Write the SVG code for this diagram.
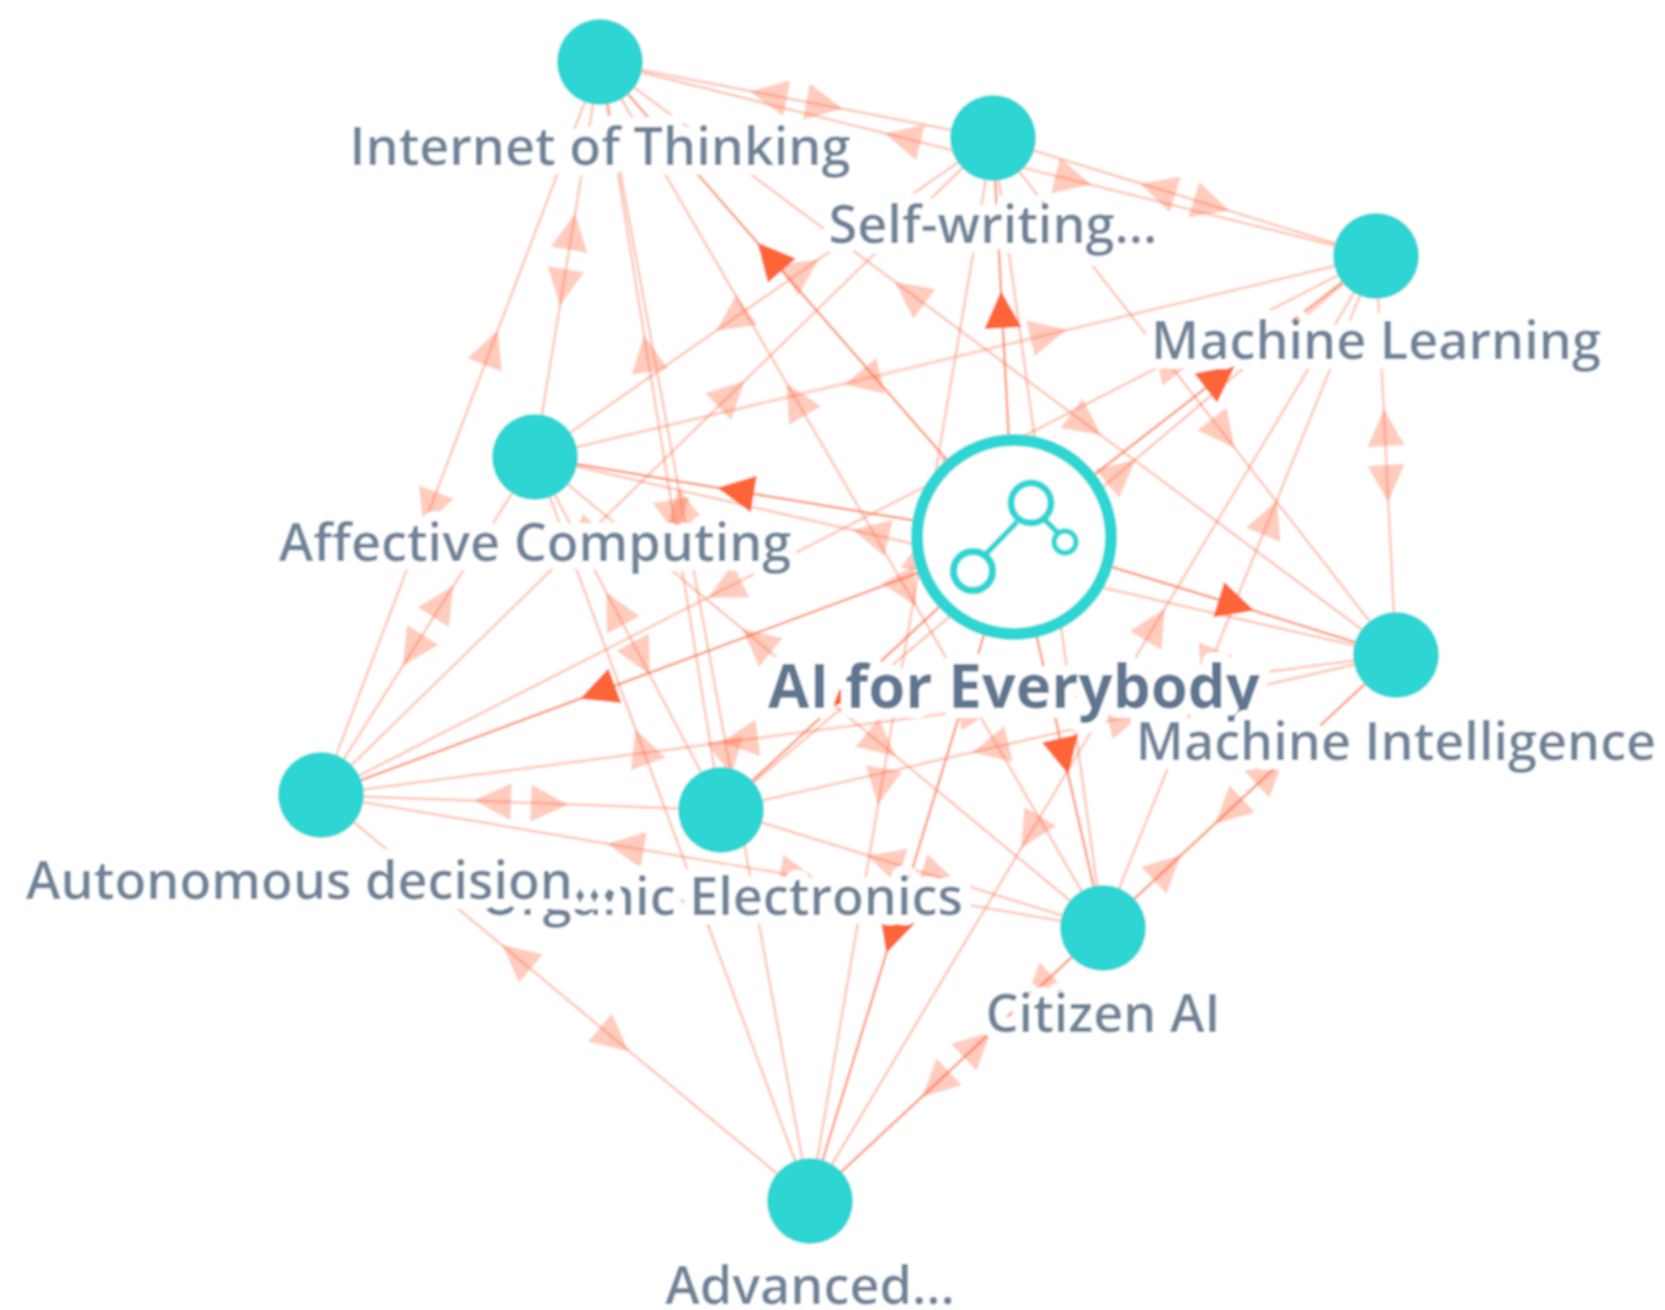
<svg xmlns="http://www.w3.org/2000/svg" width="1665" height="1310" viewBox="0 0 1665 1310">
<style>
.p{fill:none;stroke:#FF6539;stroke-opacity:.2;stroke-width:2.5;marker-mid:url(#pa)}
.d{fill:none;stroke:#FF6539;stroke-opacity:.65;stroke-width:2.5;marker-mid:url(#da)}
.n{fill:#2DD6D3}
.i{fill:none;stroke:#2DD6D3}
text{font-family:"Open Sans","Noto Sans",sans-serif;font-size:52.2px;font-weight:600;fill:#6E8298;text-anchor:middle;stroke:#fff;stroke-width:20px;stroke-linejoin:round;paint-order:stroke}
.t{font-size:60px;font-weight:700;fill:#5F7690}
</style>
<defs>
<marker id="pa" markerUnits="userSpaceOnUse" markerWidth="44" markerHeight="44" viewBox="-22 -22 44 44" refX="0" refY="0" orient="auto"><path d="M-18-18.5L19 0L-18 18.5Z" fill="#FF6539" fill-opacity=".33"/></marker>
<marker id="da" markerUnits="userSpaceOnUse" markerWidth="44" markerHeight="44" viewBox="-22 -22 44 44" refX="0" refY="0" orient="auto"><path d="M-18-18.5L19 0L-18 18.5Z" fill="#FF6539"/></marker>
<filter id="soft" x="0" y="0" width="1" height="1" filterUnits="objectBoundingBox"><feGaussianBlur stdDeviation=".8"/></filter>
</defs>
<rect width="1665" height="1310" fill="#fff"/>
<g filter="url(#soft)">
<rect width="1665" height="1310" fill="#fff"/>
<g id="connectors">
<g class="pale">
<polyline class="p" points="600,62 824,105 993,138"/><polyline class="p" points="993,138 769,95 600,62"/>
<polyline class="p" points="600,62 1073,180 1376,256"/><polyline class="p" points="1376,256 903,138 600,62"/>
<polyline class="p" points="600,62 563,287 535,457"/><polyline class="p" points="535,457 572,232 600,62"/>
<polyline class="p" points="600,62 1086,424 1396,655"/><polyline class="p" points="1396,655 910,293 600,62"/>
<polyline class="p" points="600,62 430,509 321,795"/><polyline class="p" points="321,795 491,348 600,62"/>
<polyline class="p" points="600,62 674,518 721,810"/><polyline class="p" points="721,810 647,354 600,62"/>
<polyline class="p" points="600,62 907,590 1103,928"/><polyline class="p" points="1103,928 796,400 600,62"/>
<polyline class="p" points="600,62 728,757 810,1201"/><polyline class="p" points="810,1201 682,506 600,62"/>
<polyline class="p" points="993,138 1211,205 1376,256"/><polyline class="p" points="1376,256 1158,189 993,138"/>
<polyline class="p" points="993,138 732,320 535,457"/><polyline class="p" points="535,457 803,270 993,138"/>
<polyline class="p" points="993,138 1223,433 1396,655"/><polyline class="p" points="1396,655 1166,360 993,138"/>
<polyline class="p" points="993,138 583,539 321,795"/><polyline class="p" points="321,795 731,394 993,138"/>
<polyline class="p" points="993,138 1059,612 1103,928"/><polyline class="p" points="1103,928 1037,454 993,138"/>
<polyline class="p" points="993,138 881,786 810,1201"/><polyline class="p" points="810,1201 922,553 993,138"/>
<polyline class="p" points="1376,256 863,380 535,457"/><polyline class="p" points="535,457 1048,334 1376,256"/>
<polyline class="p" points="1376,256 1387,483 1396,655"/><polyline class="p" points="1396,655 1385,428 1376,256"/>
<polyline class="p" points="1376,256 725,589 321,795"/><polyline class="p" points="321,795 965,466 1376,256"/>
<polyline class="p" points="1376,256 976,594 721,810"/><polyline class="p" points="721,810 1121,472 1376,256"/>
<polyline class="p" points="1376,256 1209,666 1103,928"/><polyline class="p" points="1103,928 1270,518 1376,256"/>
<polyline class="p" points="1376,256 1031,832 810,1201"/><polyline class="p" points="810,1201 1155,625 1376,256"/>
<polyline class="p" points="535,457 1060,578 1396,655"/><polyline class="p" points="1396,655 871,534 535,457"/>
<polyline class="p" points="535,457 413,650 321,795"/><polyline class="p" points="321,795 443,602 535,457"/>
<polyline class="p" points="535,457 641,658 721,810"/><polyline class="p" points="721,810 615,609 535,457"/>
<polyline class="p" points="535,457 881,744 1103,928"/><polyline class="p" points="1103,928 757,641 535,457"/>
<polyline class="p" points="535,457 703,911 810,1201"/><polyline class="p" points="810,1201 642,747 535,457"/>
<polyline class="p" points="1396,655 740,740 321,795"/><polyline class="p" points="321,795 977,710 1396,655"/>
<polyline class="p" points="1396,655 991,748 721,810"/><polyline class="p" points="721,810 1126,717 1396,655"/>
<polyline class="p" points="1396,655 1229,811 1103,928"/><polyline class="p" points="1103,928 1270,772 1396,655"/>
<polyline class="p" points="1396,655 1039,988 810,1201"/><polyline class="p" points="810,1201 1167,868 1396,655"/>
<polyline class="p" points="321,795 549,804 721,810"/><polyline class="p" points="721,810 493,801 321,795"/>
<polyline class="p" points="321,795 798,876 1103,928"/><polyline class="p" points="1103,928 626,847 321,795"/>
<polyline class="p" points="321,795 614,1039 810,1201"/><polyline class="p" points="810,1201 517,957 321,795"/>
<polyline class="p" points="721,810 939,877 1103,928"/><polyline class="p" points="1103,928 885,861 721,810"/>
<polyline class="p" points="1103,928 936,1084 810,1201"/><polyline class="p" points="810,1201 977,1045 1103,928"/>
</g>
<g class="strong">
<polyline class="d" points="1014,537 770,257 600,62"/>
<polyline class="d" points="1014,537 1002,310 993,138"/>
<polyline class="d" points="1014,537 1220,377 1376,256"/>
<polyline class="d" points="1014,537 736,491 535,457"/>
<polyline class="d" points="1014,537 1236,605 1396,655"/>
<polyline class="d" points="1014,537 598,692 321,795"/>
<polyline class="d" points="1014,537 847,693 721,810"/>
<polyline class="d" points="1014,537 1064,756 1103,928"/>
<polyline class="d" points="1014,537 892,935 810,1201"/>
</g>
</g>
<g id="central"><circle cx="1014" cy="537" r="97" fill="#fff" stroke="#2DD6D3" stroke-width="12"/>
<circle class="i" cx="1031" cy="503" r="20" stroke-width="7"/><circle class="i" cx="1065" cy="542" r="11" stroke-width="5.5"/><circle class="i" cx="973" cy="571" r="19.5" stroke-width="7.5"/>
<path class="i" d="M1017 522L985 555M1045 520L1057 532" stroke-width="5.5"/>
<text class="t" x="1014" y="708">AI for Everybody</text></g>
<g id="internet"><circle class="n" cx="600" cy="62" r="43"/><text x="600" y="165">Internet of Thinking</text></g>
<g id="self-writing"><circle class="n" cx="993" cy="138" r="43"/><text x="993" y="243">Self-writing...</text></g>
<g id="machine-learning"><circle class="n" cx="1376" cy="256" r="43"/><text x="1376" y="359">Machine Learning</text></g>
<g id="affective"><circle class="n" cx="535" cy="457" r="43"/><text x="535" y="561">Affective Computing</text></g>
<g id="machine-intelligence"><circle class="n" cx="1396" cy="655" r="43"/><text x="1396" y="760">Machine Intelligence</text></g>
<g id="organic"><circle class="n" cx="721" cy="810" r="43"/><text x="721" y="915">Organic Electronics</text></g>
<g id="autonomous"><circle class="n" cx="321" cy="795" r="43"/><text x="321" y="899">Autonomous decision...</text></g>
<g id="citizen"><circle class="n" cx="1103" cy="928" r="43"/><text x="1103" y="1032">Citizen AI</text></g>
<g id="advanced"><circle class="n" cx="810" cy="1201" r="43"/><text x="810" y="1304">Advanced...</text></g>
</g>
</svg>
